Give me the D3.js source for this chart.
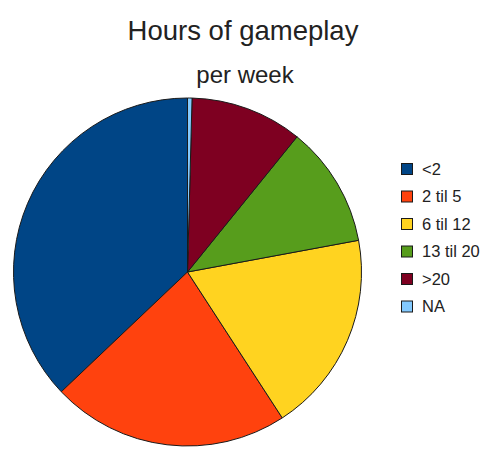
<!DOCTYPE html>
<html>
<head>
<meta charset="utf-8">
<script src="https://cdn.jsdelivr.net/npm/d3@7"></script>
<style>
  html, body { margin: 0; padding: 0; background: #ffffff; }
  svg { display: block; font-family: "Liberation Sans", Arial, sans-serif; }
</style>
</head>
<body>
<svg id="chart" width="487" height="455"></svg>
<script>
// Weekly hours of gameplay, respondent counts per band
const categories = ["<2", "2 til 5", "6 til 12", "13 til 20", ">20", "NA"];
const counts = [89, 53, 45, 27, 25, 1];
const colors = ["#004586", "#ff420e", "#ffd320", "#579d1c", "#7e0021", "#83caff"];

const titleText = "Hours of gameplay";
const subtitleText = "per week";

const svg = d3.select("#chart");
const W = 487, H = 455;

svg.append("rect").attr("width", W).attr("height", H).attr("fill", "#ffffff");

// Titles
svg.append("text")
  .attr("x", 243).attr("y", 40)
  .attr("text-anchor", "middle")
  .attr("font-size", 27.5)
  .attr("fill", "#222")
  .text(titleText);

svg.append("text")
  .attr("x", 245).attr("y", 83)
  .attr("text-anchor", "middle")
  .attr("font-size", 24)
  .attr("fill", "#222")
  .text(subtitleText);

// Pie: slices laid out counter-clockwise from twelve o'clock
const cx = 187.5, cy = 272, r = 174;
const pie = d3.pie().sort(null).startAngle(0).endAngle(-2 * Math.PI);
const arc = d3.arc().innerRadius(0).outerRadius(r);
const color = d3.scaleOrdinal().domain(categories).range(colors);

const data = categories.map((c, i) => ({ cat: c, value: counts[i] }));

svg.append("g")
  .attr("transform", `translate(${cx},${cy})`)
  .selectAll("path")
  .data(pie.value(d => d.value)(data))
  .join("path")
  .attr("d", arc)
  .attr("fill", d => color(d.data.cat))
  .attr("stroke", "#1a1a1a")
  .attr("stroke-width", 1)
  .attr("stroke-linejoin", "round");

// Legend
const legendY = d3.scalePoint().domain(categories).range([169, 306.5]);
const legend = svg.append("g");
const items = legend.selectAll("g")
  .data(categories)
  .join("g")
  .attr("transform", d => `translate(401,${legendY(d)})`);

items.append("rect")
  .attr("x", 0.5).attr("y", -5.5)
  .attr("width", 11).attr("height", 11)
  .attr("fill", d => color(d))
  .attr("stroke", "#1a1a1a")
  .attr("stroke-width", 1);

items.append("text")
  .attr("x", 21).attr("y", 0)
  .attr("dy", "0.35em")
  .attr("font-size", 16.5)
  .attr("fill", "#222")
  .text(d => d);
</script>
</body>
</html>
